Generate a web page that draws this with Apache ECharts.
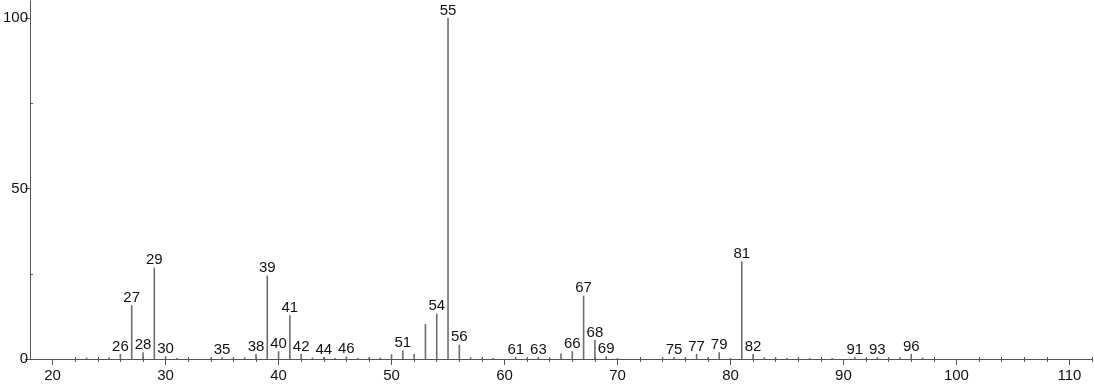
<!DOCTYPE html>
<html>
<head>
<meta charset="utf-8">
<script src="https://cdn.jsdelivr.net/npm/echarts@6/dist/echarts.min.js"></script>
<style>
html,body{margin:0;padding:0;background:#fff;}
#chart{width:1094px;height:384px;}
</style>
</head>
<body>
<div id="chart"></div>
<script>
// m/z values of peaks
const mz = [23, 25, 26, 27, 28, 29, 30, 31, 34, 35, 36, 37, 38, 39, 40, 41, 42, 43, 44, 45, 46, 47, 48, 49, 50,
            51, 52, 53, 54, 55, 56, 57, 58, 59, 61, 62, 63, 64, 65, 66, 67, 68, 69, 70, 74, 75, 76, 77, 78, 79, 80,
            81, 82, 83, 84, 85, 86, 87, 89, 91, 92, 93, 94, 95, 96, 97];
// relative intensity (%)
const intensity = [0.4, 0.5, 1.5, 15.8, 2.0, 26.8, 0.8, 0.3, 0.3, 0.6, 0.3, 0.5, 1.5, 24.5, 2.3, 12.8, 1.5, 0.4, 0.6, 0.3, 0.7, 0.3, 0.4, 0.4, 1.4,
                   2.5, 1.5, 10.3, 13.3, 100, 4.2, 0.5, 0.3, 0.3, 0.6, 0.4, 0.6, 0.4, 1.6, 2.3, 18.6, 5.6, 0.8, 0.3, 0.3, 0.6, 0.4, 1.5, 0.4, 2.0, 0.3,
                   28.6, 1.5, 0.5, 0.4, 0.3, 0.3, 0.3, 0.3, 0.6, 0.3, 0.6, 0.4, 0.5, 1.5, 0.4];
// peaks carrying an m/z label
const labelled = [26, 27, 28, 29, 30, 35, 38, 39, 40, 41, 42, 44, 46, 51, 54, 55, 56, 61, 63, 66, 67, 68, 69,
                  75, 77, 79, 81, 82, 91, 93, 96];
// axis tick labels
const xMajor = [20, 30, 40, 50, 60, 70, 80, 90, 100, 110];
const xMinor = [22, 24, 26, 28, 32, 34, 36, 38, 42, 44, 46, 48, 52, 54, 56, 58, 62, 64, 66, 68, 72, 74, 76, 78,
                82, 84, 86, 88, 92, 94, 96, 98, 102, 104, 106, 108, 112];
const yMajor = [0, 50, 100];
const yMinor = [25, 75];

const FONT = '"Liberation Sans", Arial, sans-serif';
const AXIS_COLOR = '#555';
const TEXT_COLOR = '#111';
const xRange = {min: 18, max: 112};

const data = mz.map((m, i) => ({
  value: [m, intensity[i]],
  label: {show: labelled.includes(m)}
}));

const chart = echarts.init(document.getElementById('chart'), null, {renderer: 'canvas'});
chart.setOption({
  animation: false,
  backgroundColor: '#fff',
  grid: {left: 30, right: 2, top: 1, bottom: 25, containLabel: false},
  xAxis: [
    {
      type: 'value', ...xRange, position: 'bottom',
      axisLine: {show: true, lineStyle: {color: AXIS_COLOR, width: 1}},
      axisTick: {show: true, length: 6, customValues: xMajor, lineStyle: {color: AXIS_COLOR}},
      axisLabel: {show: true, customValues: xMajor, margin: 9, fontSize: 15, color: TEXT_COLOR, fontFamily: FONT},
      splitLine: {show: false}
    },
    {
      type: 'value', ...xRange, position: 'bottom',
      axisLine: {show: false},
      axisTick: {show: true, length: 3, customValues: xMinor, lineStyle: {color: AXIS_COLOR}},
      axisLabel: {show: false},
      splitLine: {show: false}
    },
    {
      type: 'value', ...xRange, position: 'bottom',
      axisLine: {show: false},
      axisTick: {show: true, inside: true, length: 2, customValues: xMinor, lineStyle: {color: AXIS_COLOR}},
      axisLabel: {show: false},
      splitLine: {show: false}
    }
  ],
  yAxis: [
    {
      type: 'value', min: 0, max: 105, position: 'left',
      axisLine: {show: true, lineStyle: {color: AXIS_COLOR, width: 1}},
      axisTick: {show: true, length: 5, customValues: yMajor, lineStyle: {color: AXIS_COLOR}},
      axisLabel: {show: true, customValues: yMajor, margin: 2, fontSize: 15, color: TEXT_COLOR, fontFamily: FONT},
      splitLine: {show: false}
    },
    {
      type: 'value', min: 0, max: 105, position: 'left',
      axisLine: {show: false},
      axisTick: {show: true, inside: true, length: 3, customValues: yMinor, lineStyle: {color: AXIS_COLOR}},
      axisLabel: {show: false},
      splitLine: {show: false}
    }
  ],
  series: [{
    type: 'bar',
    xAxisIndex: 0,
    yAxisIndex: 0,
    barWidth: 1.6,
    itemStyle: {color: '#6e6e6e'},
    label: {
      position: 'top',
      distance: 0,
      fontSize: 15,
      color: TEXT_COLOR,
      fontFamily: FONT,
      formatter: p => String(p.value[0])
    },
    data: data
  }]
});
</script>
</body>
</html>
